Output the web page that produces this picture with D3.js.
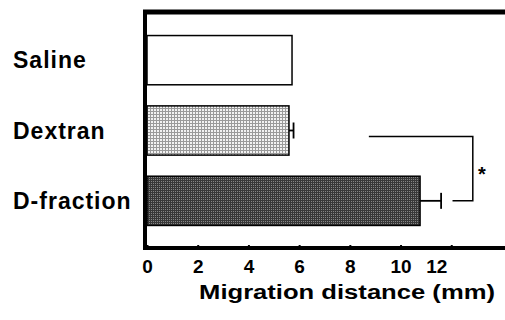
<!DOCTYPE html>
<html>
<head>
<meta charset="utf-8">
<script src="https://cdn.jsdelivr.net/npm/d3@7"></script>
<style>
  html, body { margin: 0; padding: 0; background: #fff; }
  svg text { font-family: "Liberation Sans", Arial, sans-serif; font-weight: bold; fill: #000; }
</style>
</head>
<body>
<div id="chart"></div>
<script>
// --- Data ---
const groups = ["Saline", "Dextran", "D-fraction"];
const meanDistance = [5.72, 5.6, 10.77];
const semDistance = [0, 0.18, 0.83];
const tickValues = [0, 2, 4, 6, 8, 10, 12];
const axisTitle = "Migration distance (mm)";
// significance bracket between Dextran and D-fraction: [top-left, bottom-left, right] in mm
const bracketX = [8.75, 12.05, 12.85];
const bracketLabel = "*";

// --- Setup ---
const W = 505, H = 320;
const frame = { left: 145, top: 12, bottom: 248, right: 505 };

const svg = d3.select("#chart")
  .append("svg")
    .attr("width", W)
    .attr("height", H);

const defs = svg.append("defs");

// light stipple for Dextran
const p1 = defs.append("pattern")
    .attr("id", "stippleLight")
    .attr("patternUnits", "userSpaceOnUse")
    .attr("width", 3).attr("height", 3);
p1.append("rect").attr("width", 3).attr("height", 3).attr("fill", "#9a9a9a");
p1.append("rect").attr("x", 1).attr("y", 1).attr("width", 2).attr("height", 2).attr("fill", "#f2f2f2");

// dark stipple for D-fraction
const p2 = defs.append("pattern")
    .attr("id", "stippleDark")
    .attr("patternUnits", "userSpaceOnUse")
    .attr("width", 2).attr("height", 2);
p2.append("rect").attr("width", 2).attr("height", 2).attr("fill", "#383838");
p2.append("rect").attr("x", 1).attr("y", 1).attr("width", 1).attr("height", 1).attr("fill", "#858585");

const fills = ["#fff", "url(#stippleLight)", "url(#stippleDark)"];

const x = d3.scaleLinear()
  .domain([0, 14.12])
  .range([147, frame.right]);

const y = d3.scaleBand()
  .domain(groups)
  .range([25, 236])
  .paddingInner(0.3)
  .paddingOuter(0.15);

const rows = groups.map((g, i) => ({ group: g, mean: meanDistance[i], sem: semDistance[i], fill: fills[i] }));

// --- Bars ---
svg.append("g")
  .selectAll("rect")
  .data(rows)
  .join("rect")
    .attr("x", x(0))
    .attr("y", d => y(d.group))
    .attr("width", d => x(d.mean) - x(0))
    .attr("height", y.bandwidth())
    .attr("fill", d => d.fill)
    .attr("stroke", "#000")
    .attr("stroke-width", 1.5);

// --- Error bars ---
const err = svg.append("g")
  .selectAll("g")
  .data(rows.filter(d => d.sem > 0))
  .join("g");

err.append("line")
    .attr("x1", d => x(d.mean))
    .attr("x2", d => x(d.mean + d.sem))
    .attr("y1", d => y(d.group) + y.bandwidth() / 2)
    .attr("y2", d => y(d.group) + y.bandwidth() / 2)
    .attr("stroke", "#000")
    .attr("stroke-width", 1.8);

err.append("line")
    .attr("x1", d => x(d.mean + d.sem))
    .attr("x2", d => x(d.mean + d.sem))
    .attr("y1", d => y(d.group) + y.bandwidth() / 2 - 8)
    .attr("y2", d => y(d.group) + y.bandwidth() / 2 + 8)
    .attr("stroke", "#000")
    .attr("stroke-width", 1.8);

// --- Significance bracket ---
const yTop = y("Dextran") + y.bandwidth() / 2 + 6;
const yBot = y("D-fraction") + y.bandwidth() / 2;
svg.append("path")
  .attr("d", `M${x(bracketX[0])},${yTop} H${x(bracketX[2])} V${yBot} H${x(bracketX[1])}`)
  .attr("fill", "none")
  .attr("stroke", "#000")
  .attr("stroke-width", 1.5);

svg.append("text")
  .attr("x", x(bracketX[2]) + 9)
  .attr("y", (yTop + yBot) / 2 + 12)
  .attr("text-anchor", "middle")
  .style("font-size", "20px")
  .text(bracketLabel);

// --- Frame ---
svg.append("line")
  .attr("x1", frame.left - 2).attr("x2", frame.right)
  .attr("y1", frame.top).attr("y2", frame.top)
  .attr("stroke", "#000").attr("stroke-width", 5);

svg.append("line")
  .attr("x1", frame.left).attr("x2", frame.left)
  .attr("y1", frame.top).attr("y2", frame.bottom + 2)
  .attr("stroke", "#000").attr("stroke-width", 4);

// --- X axis ---
const xAxis = svg.append("g")
  .attr("transform", `translate(0, ${frame.bottom})`)
  .call(d3.axisBottom(x).tickValues(tickValues).tickSize(-3).tickPadding(12));

xAxis.select(".domain")
  .attr("d", `M${frame.left - 2},0H${frame.right}`)
  .attr("stroke-width", 4);
xAxis.selectAll(".tick line").attr("stroke-width", 2);
xAxis.selectAll(".tick text")
  .style("font-size", "19px")
  .attr("dx", d => d === 12 ? -15 : 0);

// title glyphs in the reference are wide, so stretch horizontally
svg.append("text")
  .attr("transform", "translate(347, 299) scale(1.22, 1)")
  .attr("text-anchor", "middle")
  .style("font-size", "21px")
  .text(axisTitle);

// --- Category labels ---
svg.append("g")
  .selectAll("text")
  .data(groups)
  .join("text")
    .attr("x", 13)
    .attr("y", d => y(d) + y.bandwidth() / 2)
    .attr("dy", "0.35em")
    .style("font-size", "23px")
    .style("letter-spacing", "1px")
    .text(d => d);
</script>
</body>
</html>
